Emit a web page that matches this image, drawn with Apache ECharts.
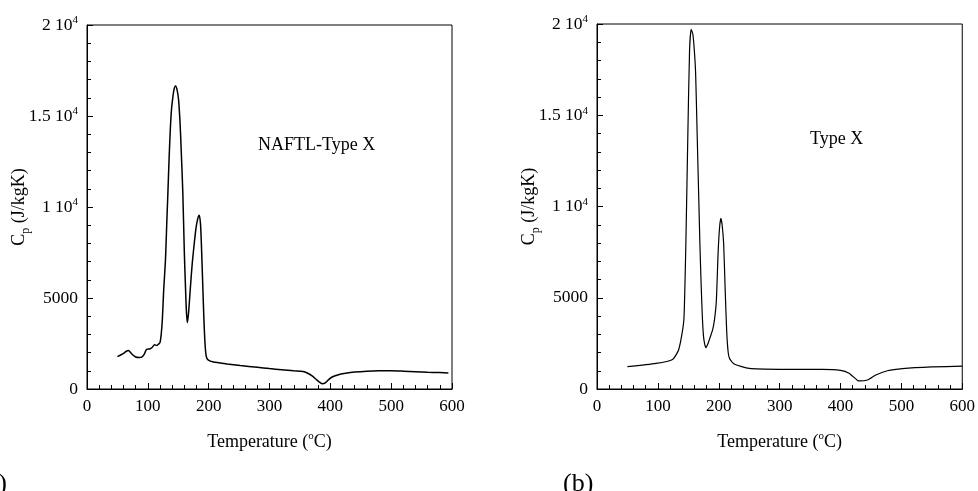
<!DOCTYPE html>
<html>
<head>
<meta charset="utf-8">
<script src="https://cdn.jsdelivr.net/npm/echarts@6/dist/echarts.min.js"></script>
<style>html,body{margin:0;padding:0;background:#fff}#c{width:978px;height:491px}</style>
</head>
<body>
<div id="c"></div>
<script>
// ---- data ----
var leftTemp = [50,56,60,64,68,71,75,80,86,90,94,98,103,107,111,115,118,120,122,124,126,129,131,133,135,137,139,141,143,145.5,148,150.5,153,155,157.5,160,162,163.5,165,167,170,173,176,179,182,184.5,186.5,188,190,192,194,196,199,208,230,252,280,300,320,340,355,362,370,377,383,387,391,396,403,412,425,440,460,480,500,520,540,560,580,594];
var leftCp   = [1780,1880,1960,2060,2120,2030,1880,1760,1730,1750,1900,2180,2200,2280,2430,2390,2480,2550,3000,3900,5400,7100,9000,10800,12700,14300,15400,16000,16450,16650,16450,15900,14600,13000,10800,7500,5500,4200,3650,4200,5600,6900,7900,8800,9350,9550,9100,8000,6000,4000,2500,1800,1600,1480,1380,1290,1190,1120,1060,1000,960,880,720,520,360,290,320,480,660,770,860,930,980,1000,1000,980,950,920,900,880];

var rightTemp = [50,97,124,134,140,143,146,149,152,154.7,157.4,160,162,164.5,167.2,169,171,173,175,177,179,183,186,190,193,196,199,201.5,203.5,205.5,208,210.5,213,215.5,218,226,250,300,370,400,414,428,431,444,458,477,502,550,600];
var rightCp   = [1222,1400,1620,2140,3100,3960,8000,13500,18500,19700,19450,18500,17300,14000,10400,8000,5800,4000,2870,2450,2265,2550,2850,3250,3800,4800,7500,8900,9350,9000,8000,5500,3200,2000,1650,1360,1130,1080,1077,1020,860,470,440,490,770,1000,1120,1210,1250];

var xTickValues = [0,100,200,300,400,500,600];
var yTickValues = [0,5000,10000,15000,20000];
var yTickLabels = ['0','5000','1 10{sup|4}','1.5 10{sup|4}','2 10{sup|4}'];
var xAxisTitle = 'Temperature ({sup|o}C)';
var yAxisTitle = '{m|C}{sub|p}{m| (J/kgK)}';
var panelNotes = ['NAFTL-Type X','Type X'];
var panelTags = ['(a)','(b)'];

// ---- chart ----
var FONT = 'Liberation Serif, Times New Roman, serif';
function pairs(xs, ys){ return xs.map(function(x,i){ return [x, ys[i]]; }); }

function xAxisCfg(gi){
  return {
    gridIndex: gi, type: 'value', min: 0, max: 600, interval: 100,
    name: xAxisTitle, nameLocation: 'middle', nameGap: 42, nameMoveOverlap: false,
    nameTextStyle: {fontFamily: FONT, fontSize: 18, color: '#000', lineHeight: 22,
      rich: {sup: {fontFamily: FONT, fontSize: 11, color: '#000', verticalAlign: 'top'}}},
    axisLine: {show: true, onZero: false, lineStyle: {color: '#000', width: 1}},
    axisTick: {show: true, inside: true, length: 6, lineStyle: {color: '#000', width: 1}},
    minorTick: {show: true, splitNumber: 5, length: 4, lineStyle: {color: '#000', width: 1}},
    splitLine: {show: false},
    axisLabel: {fontFamily: FONT, fontSize: 17, color: '#000', margin: 9,
      formatter: function(v){ return xTickValues.indexOf(v) >= 0 ? String(v) : ''; }}
  };
}
function yAxisCfg(gi){
  return {
    gridIndex: gi, type: 'value', min: 0, max: 20000, interval: 5000,
    name: yAxisTitle, nameLocation: 'middle', nameGap: 55, nameMoveOverlap: false,
    nameTextStyle: {fontFamily: FONT, fontSize: 18, color: '#000',
      rich: {
        m: {fontFamily: FONT, fontSize: 18, color: '#000', lineHeight: 22, verticalAlign: 'top'},
        sub: {fontFamily: FONT, fontSize: 12, color: '#000', padding: [9,0,0,0], verticalAlign: 'bottom'}
      }},
    axisLine: {show: true, onZero: false, lineStyle: {color: '#000', width: 1}},
    axisTick: {show: true, inside: true, length: 6, lineStyle: {color: '#000', width: 1}},
    minorTick: {show: true, splitNumber: 5, length: 4, lineStyle: {color: '#000', width: 1}},
    splitLine: {show: false},
    axisLabel: {fontFamily: FONT, fontSize: 17.5, color: '#000', margin: 9, lineHeight: 20,
      rich: {sup: {fontFamily: FONT, fontSize: 11, color: '#000', verticalAlign: 'top'}},
      formatter: function(v){ var i = yTickValues.indexOf(v); return i >= 0 ? yTickLabels[i] : ''; }}
  };
}

var chart = echarts.init(document.getElementById('c'), null, {renderer: 'canvas'});
chart.setOption({
  backgroundColor: '#fff',
  animation: false,
  grid: [
    {left: 87, top: 25, width: 365, height: 364, show: true, borderColor: '#000', borderWidth: 1, backgroundColor: 'transparent'},
    {left: 597, top: 24, width: 366, height: 365, show: true, borderColor: '#000', borderWidth: 1, backgroundColor: 'transparent'}
  ],
  xAxis: [xAxisCfg(0), xAxisCfg(1)],
  yAxis: [yAxisCfg(0), yAxisCfg(1)],
  series: [
    {type: 'line', xAxisIndex: 0, yAxisIndex: 0, data: pairs(leftTemp, leftCp), showSymbol: false, smooth: 0.25,
     lineStyle: {color: '#000', width: 1.5}},
    {type: 'line', xAxisIndex: 1, yAxisIndex: 1, data: pairs(rightTemp, rightCp), showSymbol: false, smooth: 0.2,
     lineStyle: {color: '#000', width: 1.2}}
  ],
  graphic: [
    {type: 'text', left: 258, top: 136, style: {text: panelNotes[0], font: '18px ' + FONT, fill: '#000'}},
    {type: 'text', left: 810, top: 130, style: {text: panelNotes[1], font: '18px ' + FONT, fill: '#000'}},
    {type: 'text', x: 7, y: 484, style: {text: panelTags[0], font: '26px ' + FONT, fill: '#000', align: 'right', verticalAlign: 'middle'}},
    {type: 'text', x: 563, y: 484, style: {text: panelTags[1], font: '26px ' + FONT, fill: '#000', align: 'left', verticalAlign: 'middle'}}
  ]
});
</script>
</body>
</html>
